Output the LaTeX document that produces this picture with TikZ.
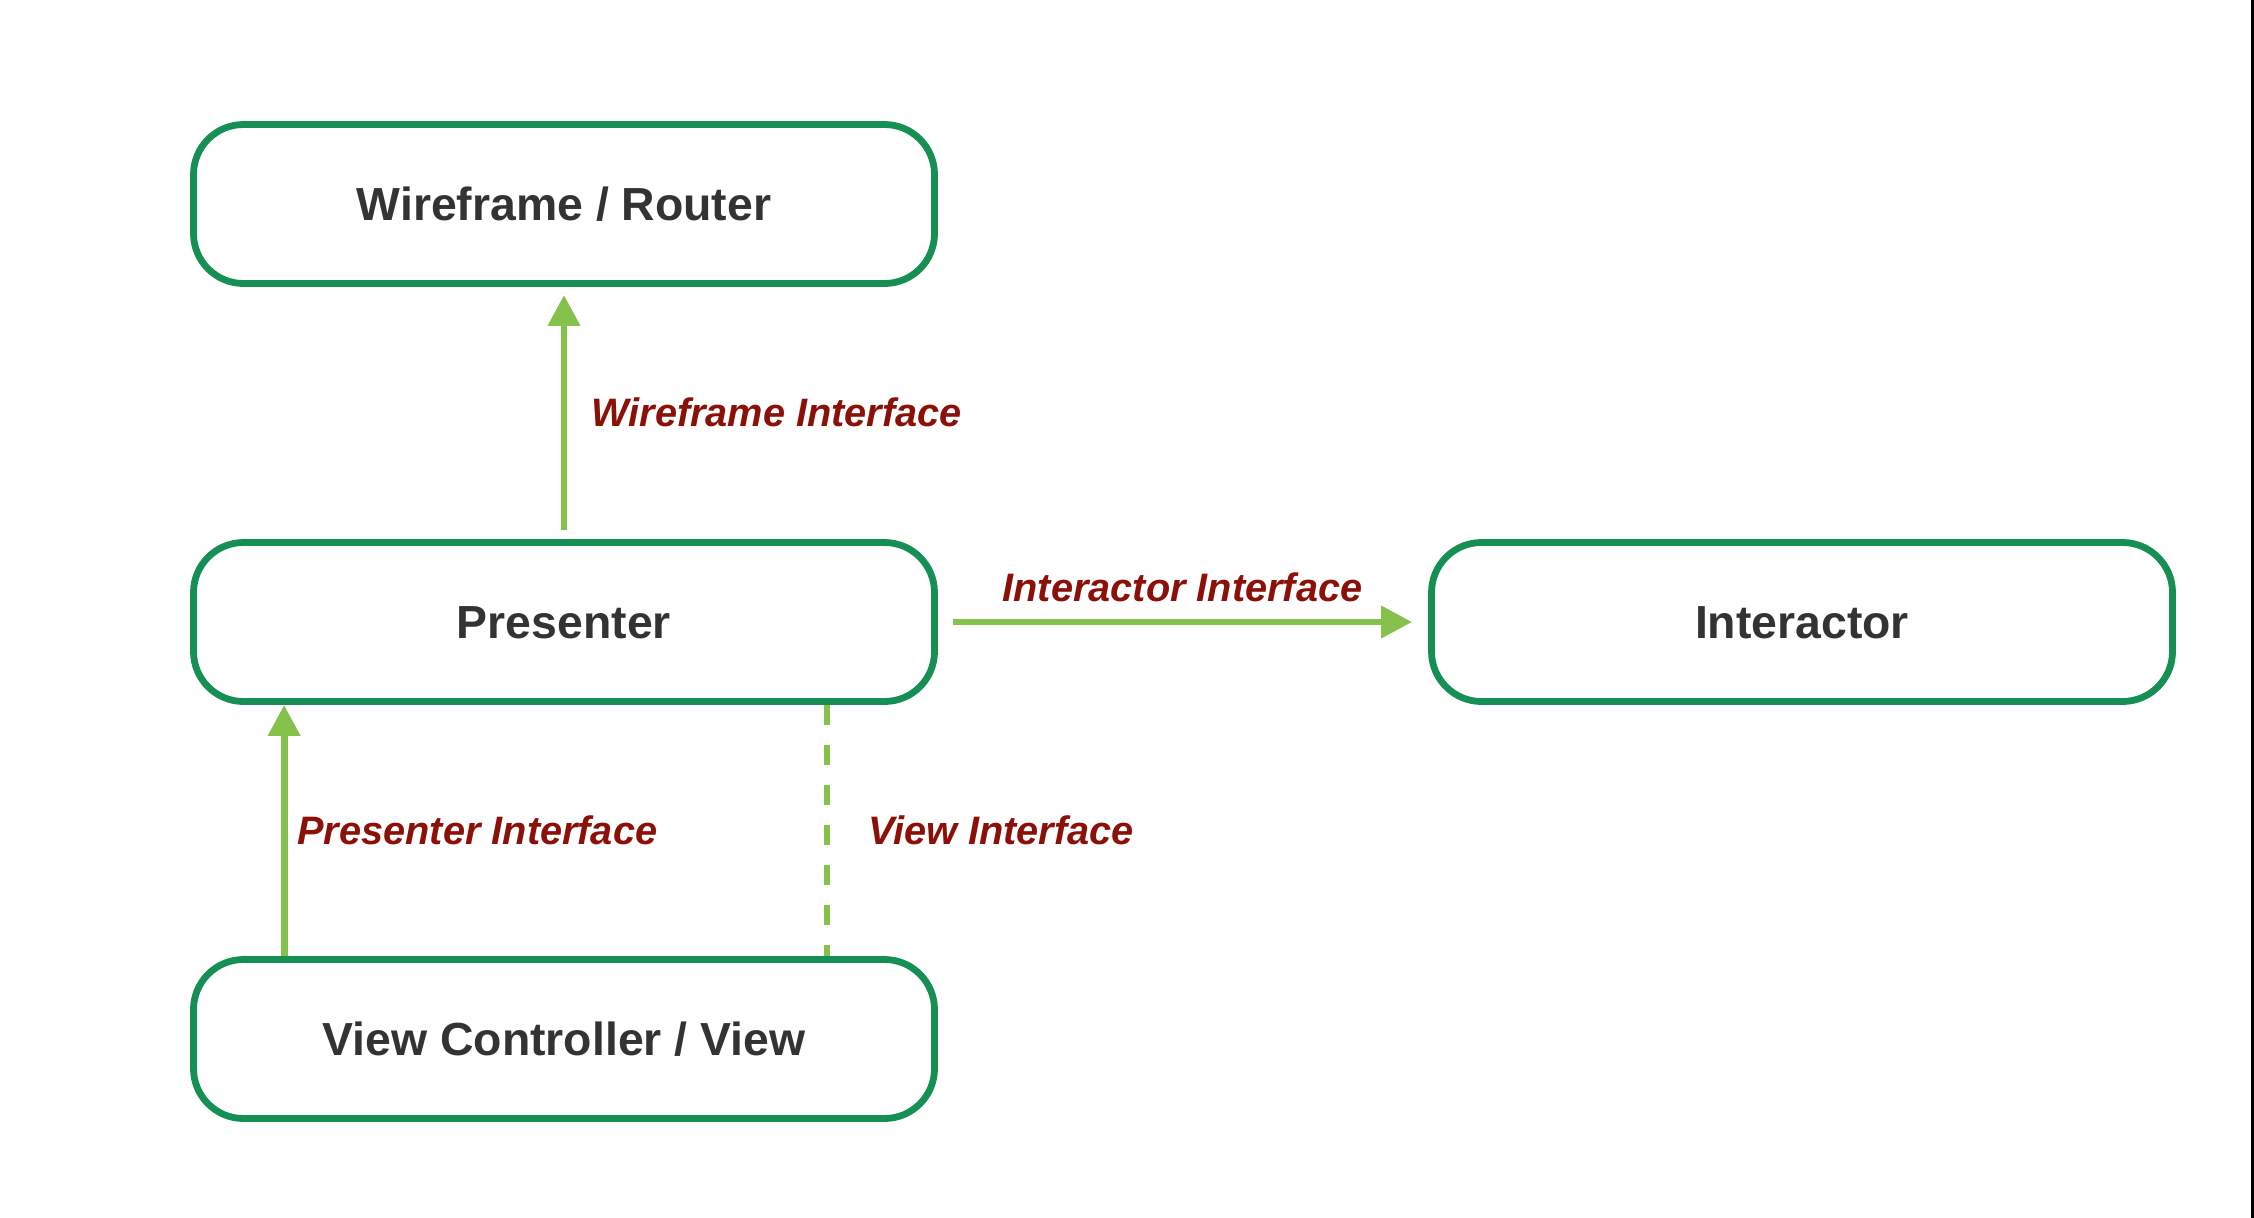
\documentclass[tikz,border=0pt]{standalone}
\usepackage{fontspec}
\setmainfont{Liberation Sans}
\usetikzlibrary{arrows.meta}
\definecolor{boxgreen}{HTML}{168F55}
\definecolor{arrowgreen}{HTML}{84C24B}
\definecolor{labelred}{HTML}{8B1008}
\definecolor{boxtext}{HTML}{333333}

\begin{document}
\begin{tikzpicture}
 	\tikzstyle{every node}+=[inner sep=0pt]
 	\tikzstyle{module}=[draw=boxgreen, line width=0.068cm, rounded corners=0.5cm, minimum width=7.41cm, minimum height=1.59cm, text=boxtext, text height=0.33cm, text depth=0cm, font=\fontsize{13.2}{15}\selectfont\bfseries]
 	\tikzstyle{link}=[arrowgreen, line width=0.068cm]
 	\tikzstyle{tip}=[-{Triangle[length=0.31cm,width=0.31cm]}]
 	\tikzstyle{iface}=[text=labelred, text height=0.28cm, text depth=0cm, font=\fontsize{11.3}{13}\selectfont\bfseries\itshape]
 	\useasboundingbox (0,0) rectangle (22.54,-12.18);
 	\fill [black] (22.505,0) rectangle (22.54,-12.18);
 	\node [module] (wire) at (5.64,-2.04) {Wireframe / Router};
 	\node [module] (pres) at (5.64,-6.22) {Presenter};
 	\node [module] (inter) at (18.02,-6.22) {Interactor};
 	\node [module] (view) at (5.64,-10.39) {View Controller / View};
 	\draw [link, tip] ([yshift=0.09cm]pres.north) -- ([yshift=-0.08cm]wire.south) node [iface, midway, right=0.24cm] {Wireframe Interface};
 	\draw [link, tip] ([xshift=0.15cm]pres.east) -- ([xshift=-0.16cm]inter.west) node [iface, midway, above=0.17cm] {Interactor Interface};
 	\draw [link, tip] ([xshift=0.94cm]view.north west) -- ([xshift=0.94cm]pres.south west) node [iface, midway, right=0.1cm] {Presenter Interface};
 	\draw [link, dash pattern=on 0.2cm off 0.2cm] ([xshift=-1.11cm]pres.south east) -- ([xshift=-1.11cm]view.north east) node [iface, midway, right=0.38cm] {View Interface};
\end{tikzpicture}
\end{document}
